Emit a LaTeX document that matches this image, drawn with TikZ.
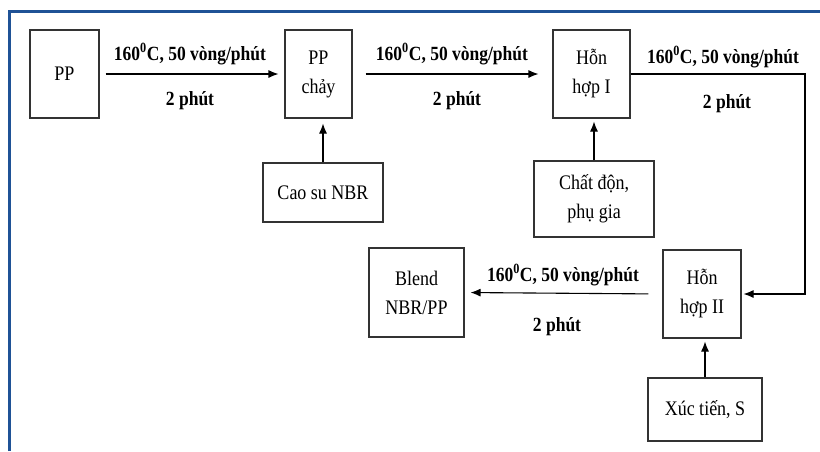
\documentclass[tikz,border=0pt]{standalone}
\usepackage{fontspec}
\setmainfont{Liberation Serif}
\usetikzlibrary{arrows.meta}
\definecolor{frameblue}{RGB}{31,82,150}
\newcommand{\tallr}[1]{\scalebox{1}[1.15]{#1}}
\begin{document}
\begin{tikzpicture}[x=1pt,y=-1pt,
  box/.style={draw=black!80,line width=1.1pt,inner sep=0pt,align=center,
    font=\fontsize{18}{29}\selectfont},
  lbl/.style={font=\fontsize{17.5}{20}\selectfont\bfseries,inner sep=0pt},
  arr/.style={line width=1.1pt,-{Latex[length=10pt,width=8pt]}}]
\useasboundingbox (0,0) rectangle (820,451);
% frame
\draw[frameblue,line width=2.6pt] (9.5,451) -- (9.5,11.5) -- (820,11.5);
% boxes
\node[box,minimum width=69pt,minimum height=88pt] (PP) at (64.5,74) {\tallr{PP}};
\node[box,minimum width=67pt,minimum height=88pt] (PPc) at (318.5,74) {\tallr{PP}\\\tallr{chảy}};
\node[box,minimum width=77pt,minimum height=88pt] (H1) at (591.5,74) {\tallr{Hỗn}\\\tallr{hợp I}};
\node[box,minimum width=120pt,minimum height=59pt] (NBR) at (323,192.5) {\tallr{Cao su NBR}};
\node[box,minimum width=120pt,minimum height=76pt] (CD) at (594,199) {\tallr{Chất độn,}\\\tallr{phụ gia}};
\node[box,minimum width=78pt,minimum height=88pt] (H2) at (702,294) {\tallr{Hỗn}\\\tallr{hợp II}};
\node[box,minimum width=114pt,minimum height=63pt] (XT) at (705,409.5) {\tallr{Xúc tiến, S}};
\node[box,minimum width=95pt,minimum height=89pt] (BL) at (416.5,292.5) {\tallr{Blend}\\\tallr{NBR/PP}};
% arrows
\draw[arr,shorten <=6pt,shorten >=6pt] (PP.east) -- (PPc.west);
\draw[arr,shorten <=13pt,shorten >=14pt] (PPc.east) -- (H1.west);
\draw[arr,shorten >=5pt] (NBR.north) -- (NBR.north |- PPc.south);
\draw[arr,shorten >=3pt] (CD.north) -- (CD.north |- H1.south);
\draw[arr,shorten >=3pt] (XT.north) -- (XT.north |- H2.south);
\coordinate (corner) at (805,294);
\draw[arr,shorten >=2pt] (H1.east) -| (corner) -- (H2.east);
\draw[arr,shorten <=14pt,shorten >=6pt] (H2.west) -- (BL.east);
% labels
\node[lbl] (t1) at (190,54) {\tallr{160\textsuperscript{0}C, 50 vòng/phút}};
\node[lbl] (b1) at (190,101) {\tallr{2 phút}};
\node[lbl] (t2) at (452,54) {\tallr{160\textsuperscript{0}C, 50 vòng/phút}};
\node[lbl] (b2) at (457,101) {\tallr{2 phút}};
\node[lbl] (t3) at (723,57) {\tallr{160\textsuperscript{0}C, 50 vòng/phút}};
\node[lbl] (b3) at (727,104) {\tallr{2 phút}};
\node[lbl] (t4) at (563,275) {\tallr{160\textsuperscript{0}C, 50 vòng/phút}};
\node[lbl] (b4) at (557,327) {\tallr{2 phút}};
\end{tikzpicture}
\end{document}
